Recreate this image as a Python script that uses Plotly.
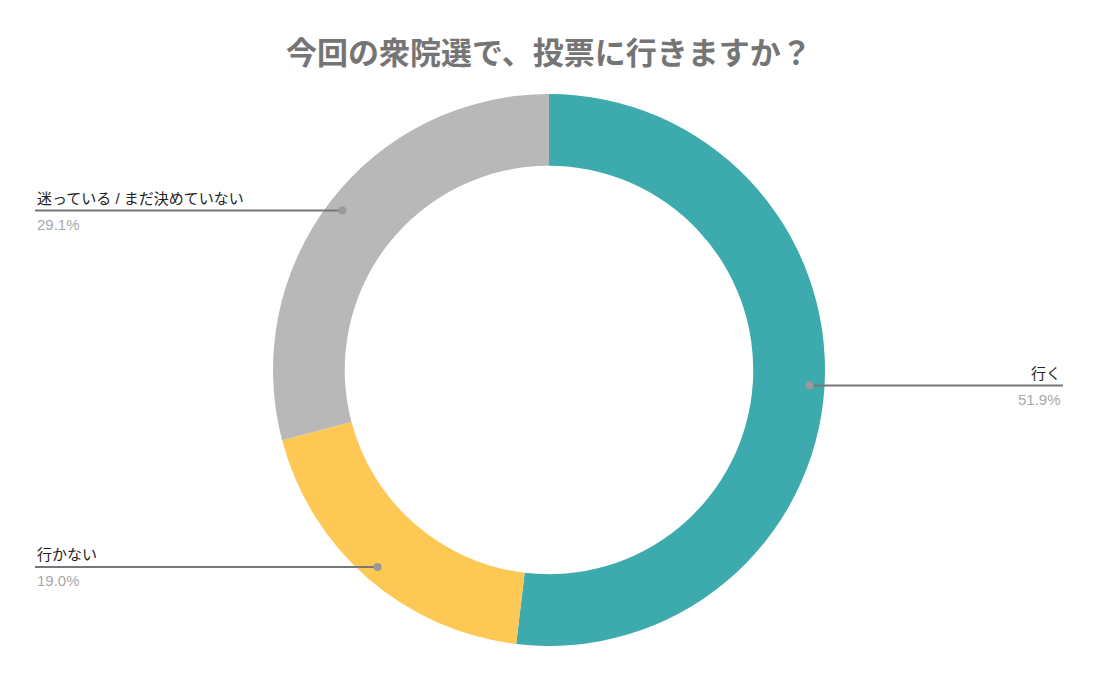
import numpy as np
import plotly.graph_objects as go

labels = ['行く', '行かない', '迷っている / まだ決めていない']
values = [51.9, 19.0, 29.1]
colors = ['#3dabad', '#fec855', '#b8b8b8']

W, H = 1098, 680
off = 8                      # page body margin
cx, cy, R = 549 - off, 370 - off, 276   # pie centre / radius in pixels

fig = go.Figure(go.Pie(labels=labels,
                       values=values,
                       hole=0.74,
                       sort=False,
                       direction='clockwise',
                       rotation=0,
                       marker=dict(colors=colors, line=dict(width=0)),
                       textinfo='none',
                       hoverinfo='label+percent',
                       domain=dict(x=[(cx - R) / W, (cx + R) / W],
                                   y=[1 - (cy + R) / H, 1 - (cy - R) / H])))

# leader lines from each slice to its label, placed from the slice mid angles
shapes = []
annotations = []
total = sum(values)
start = 0
for lab, v in zip(labels, values):
    mid = (start + v / 2) / total * 2 * np.pi
    start += v
    px = cx + 0.946 * R * np.sin(mid)
    py = cy - 0.946 * R * np.cos(mid)
    right = np.sin(mid) > 0
    ex = (1063 if right else 35) - off
    shapes.append(dict(type='line', xref='paper', yref='paper',
                       x0=px / W, x1=ex / W, y0=1 - py / H, y1=1 - py / H,
                       line=dict(color='#777777', width=2)))
    shapes.append(dict(type='circle', xref='paper', yref='paper',
                       x0=(px - 4) / W, x1=(px + 4) / W,
                       y0=1 - (py + 4) / H, y1=1 - (py - 4) / H,
                       fillcolor='#999999', line=dict(width=0)))
    anchor = 'right' if right else 'left'
    annotations.append(dict(xref='paper', yref='paper', x=ex / W, y=1 - (py - 2) / H,
                            text=lab, showarrow=False, xanchor=anchor, yanchor='bottom',
                            font=dict(size=15, color='#222222')))
    annotations.append(dict(xref='paper', yref='paper', x=ex / W, y=1 - (py + 3) / H,
                            text='%.1f%%' % v, showarrow=False, xanchor=anchor, yanchor='top',
                            font=dict(size=15, color='#a8a8a8',
                                      family='Liberation Sans, Arial')))

fig.update_layout(title=dict(text='<b>今回の衆院選で、投票に行きますか？</b>',
                             x=(549 - off) / W, xanchor='center',
                             y=1 - (53 - off) / H, yanchor='middle',
                             font=dict(size=31, color='#757575',
                                       family='Noto Sans CJK JP')),
                  font=dict(family='Liberation Sans, Noto Sans CJK JP'),
                  width=W, height=H,
                  margin=dict(l=0, r=0, t=0, b=0),
                  showlegend=False,
                  paper_bgcolor='white',
                  shapes=shapes,
                  annotations=annotations)

fig.write_html('out.html')
